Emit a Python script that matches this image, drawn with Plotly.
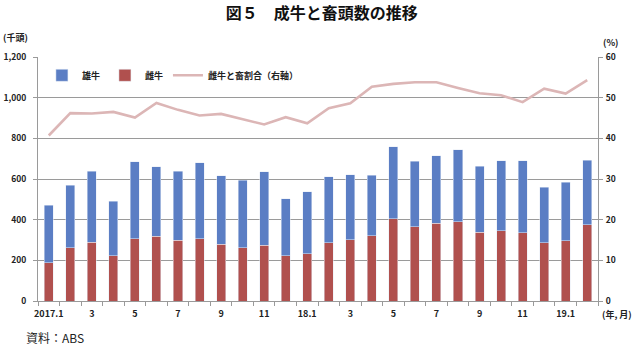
import plotly.graph_objects as go

# Monthly slaughter of adult cattle, Jan 2017 – Feb 2019 (thousand head)
months = ["2017.1", "2017.2", "2017.3", "2017.4", "2017.5", "2017.6", "2017.7",
          "2017.8", "2017.9", "2017.10", "2017.11", "2017.12",
          "2018.1", "2018.2", "2018.3", "2018.4", "2018.5", "2018.6", "2018.7",
          "2018.8", "2018.9", "2018.10", "2018.11", "2018.12",
          "2019.1", "2019.2"]
males = [283, 309, 348, 268, 378, 342, 338, 374, 336, 332, 362, 281,
         304, 326, 320, 297, 355, 321, 332, 354, 324, 345, 354, 273, 289, 318]
females = [187, 261, 289, 223, 306, 319, 299, 306, 279, 263, 273, 223,
           233, 286, 301, 322, 404, 366, 382, 390, 339, 345, 335, 286, 296, 375]
female_share = [40.7, 46.2, 46.1, 46.5, 45.1, 48.7, 47.0, 45.6, 46.0, 44.7,
                43.4, 45.2, 43.7, 47.4, 48.6, 52.7, 53.4, 53.8, 53.8, 52.4,
                51.1, 50.6, 48.9, 52.2, 51.0, 54.3]
tick_labels = ["2017.1", "3", "5", "7", "9", "11", "18.1",
               "3", "5", "7", "9", "11", "19.1"]

x = list(range(1, len(months) + 1))
tick_pos = x[::2]

FONT = "Noto Sans CJK JP"
BLUE = "#5b7ec4"
RED = "#b0504e"
PINK = "#dcb6b6"
GRID = "#9a9a9a"

fig = go.Figure()
fig.add_trace(go.Bar(x=x, y=females, name="雌牛", marker_color=RED,
                     customdata=months, legendrank=2))
fig.add_trace(go.Bar(x=x, y=males, name="雄牛", marker_color=BLUE,
                     customdata=months, legendrank=1))
fig.add_trace(go.Scatter(x=x, y=female_share, name="雌牛と畜割合（右軸）",
                         mode="lines", line=dict(color=PINK, width=2.6),
                         yaxis="y2", legendrank=3))

tickfont = dict(family=FONT, size=9, color="#222", weight="bold")
ytickfont = dict(family=FONT, size=8.5, color="#222", weight="bold")

fig.update_layout(
    width=637, height=345,
    margin=dict(l=38, r=39, t=57, b=44),
    paper_bgcolor="white", plot_bgcolor="white",
    barmode="stack", bargap=0.58,
    showlegend=True,
    legend=dict(orientation="h", x=0.007, y=0.925, xanchor="left",
                yanchor="middle", font=dict(family=FONT, size=9, color="#222",
                                             weight="bold"),
                bgcolor="rgba(0,0,0,0)", itemwidth=30,
                traceorder="normal"),
    title=dict(text="図５　成牛と畜頭数の推移", x=0.505, xref="container",
               xanchor="center", y=0.962, yref="container", yanchor="middle",
               font=dict(family=FONT, size=16, color="#111", weight="bold")),
    xaxis=dict(range=[0.5, len(months) + 0.5], tickmode="array",
               tickvals=tick_pos, ticktext=tick_labels, ticks="",
               showgrid=False, showline=True, linecolor=GRID, linewidth=1,
               tickfont=tickfont, ticklabelstandoff=4, automargin=False,
               minor=dict(tick0=0.5, dtick=1, ticks="outside", ticklen=4,
                          tickcolor=GRID, showgrid=False),
               zeroline=False),
    yaxis=dict(range=[0, 1200], dtick=200, tickformat=",", showgrid=True,
               gridcolor=GRID, gridwidth=1, showline=True, linecolor=GRID,
               ticks="outside", ticklen=4, tickcolor=GRID, tickfont=ytickfont,
               ticklabelstandoff=5, zeroline=False, automargin=False),
    yaxis2=dict(range=[0, 60], dtick=10, overlaying="y", side="right",
                showgrid=False, showline=True, linecolor=GRID, ticks="outside",
                ticklen=4, tickcolor=GRID, tickfont=ytickfont,
                ticklabelstandoff=1, zeroline=False, automargin=False),
)

annot_font = dict(family=FONT, size=9, color="#222", weight="bold")
fig.add_annotation(text="(千頭)", xref="paper", yref="paper", x=-0.066,
                   y=1.078, xanchor="left", yanchor="middle",
                   showarrow=False, font=annot_font)
fig.add_annotation(text="(%)", xref="paper", yref="paper", x=1.005,
                   y=1.061, xanchor="left", yanchor="middle",
                   showarrow=False, font=annot_font)
fig.add_annotation(text="(年, 月)", xref="paper", yref="paper", x=1.004,
                   y=-0.057, xanchor="left", yanchor="middle",
                   showarrow=False, font=annot_font)
fig.add_annotation(text="資料：ABS", xref="paper", yref="paper", x=-0.025,
                   y=-0.148, xanchor="left", yanchor="middle",
                   showarrow=False,
                   font=dict(family=FONT, size=12, color="#222"))

fig.write_html("out.html")
